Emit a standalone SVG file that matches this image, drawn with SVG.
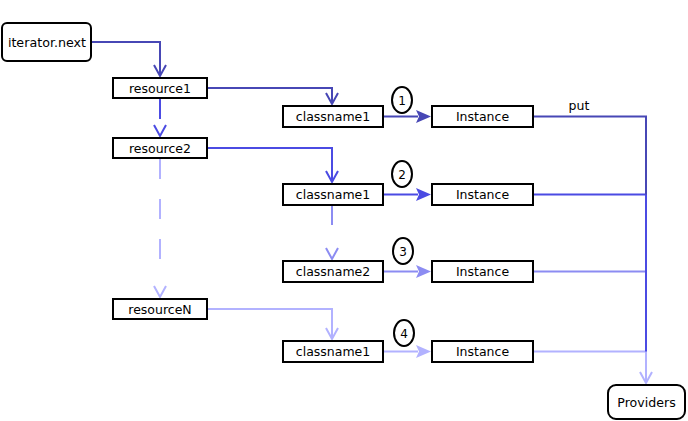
<svg xmlns="http://www.w3.org/2000/svg" width="688" height="421" viewBox="0 0 688 421">
<style>
.box{fill:#fff;stroke:#000;stroke-width:2}
.t{font-family:"DejaVu Sans",Verdana,sans-serif;font-size:12.5px;text-anchor:middle;fill:#000}
.ln{fill:none;stroke-width:2}
.c1{stroke:#4747b5}
.c2{stroke:#4b4be3}
.c3{stroke:#8c8cf2}
.c4{stroke:#b2b2ff}
.dash{stroke-dasharray:20 20}
.f1{fill:#4747b5}.f2{fill:#4b4be3}.f3{fill:#8c8cf2}.f4{fill:#b2b2ff}
</style>
<rect width="688" height="421" fill="#fff"/>
<g id="connectors">
  <!-- iterator.next -> resource1 -->
  <path class="ln c1" d="M92,42 H160 V76 M154,65 L160,76 L166,65"/>
  <!-- resource1 -> resource2 -->
  <path class="ln c2" d="M160,99 V119 M154,125 L160,136 L166,125"/>
  <!-- resource2 -> resourceN -->
  <path class="ln c4 dash" d="M160,159 V278"/>
  <path class="ln c4" d="M154,286 L160,297 L166,286"/>
  <!-- resource1 -> classname1 -->
  <path class="ln c1" d="M208,88 H332 V104 M326,93 L332,104 L338,93"/>
  <!-- resource2 -> classname1 -->
  <path class="ln c2" d="M208,148 H332 V182 M326,171 L332,182 L338,171"/>
  <!-- classname1 -> classname2 -->
  <path class="ln c3" d="M332,206 V225 M326,248 L332,259 L338,248"/>
  <!-- resourceN -> classname1 -->
  <path class="ln c4" d="M208,309 H332 V339 M326,328 L332,339 L338,328"/>
  <!-- classname -> Instance -->
  <path class="ln c1" d="M384,116.5 H418"/><path class="f1" d="M431,116.5 L416,110 L419,116.5 L416,123 Z"/>
  <path class="ln c2" d="M384,194.5 H418"/><path class="f2" d="M431,194.5 L416,188 L419,194.5 L416,201 Z"/>
  <path class="ln c3" d="M384,271.5 H418"/><path class="f3" d="M431,271.5 L416,265 L419,271.5 L416,278 Z"/>
  <path class="ln c4" d="M384,351.5 H418"/><path class="f4" d="M431,351.5 L416,345 L419,351.5 L416,358 Z"/>
  <!-- Instance -> Providers -->
  <path class="ln c4" d="M534,351.5 H646 V383 M640,372 L646,383 L652,372"/>
  <path class="ln c3" d="M534,271.5 H646"/>
  <path class="ln c2" d="M534,194.5 H646 V351.5"/>
  <path class="ln c1" d="M534,116.5 H646 V194.5"/>
  <text class="t" x="579" y="110">put</text>
</g>
<g id="iterator-next"><rect class="box" x="2" y="23" width="89" height="38" rx="5"/><text class="t" x="47" y="46.5" style="font-size:12.7px">iterator.next</text></g>
<g id="resource1"><rect class="box" x="113" y="78" width="94" height="20"/><text class="t" x="160" y="92.5">resource1</text></g>
<g id="resource2"><rect class="box" x="113" y="138" width="94" height="20"/><text class="t" x="160" y="152.5">resource2</text></g>
<g id="resourceN"><rect class="box" x="113" y="299" width="94" height="20"/><text class="t" x="160" y="313.5">resourceN</text></g>
<g id="classname1-a"><rect class="box" x="283" y="106" width="100" height="21"/><text class="t" x="333" y="121">classname1</text></g>
<g id="classname1-b"><rect class="box" x="283" y="184" width="100" height="21"/><text class="t" x="333" y="199">classname1</text></g>
<g id="classname2"><rect class="box" x="283" y="261" width="100" height="21"/><text class="t" x="333" y="276">classname2</text></g>
<g id="classname1-c"><rect class="box" x="283" y="341" width="100" height="21"/><text class="t" x="333" y="356">classname1</text></g>
<g id="instance1"><rect class="box" x="432" y="106" width="101" height="21"/><text class="t" x="482.5" y="121">Instance</text></g>
<g id="instance2"><rect class="box" x="432" y="184" width="101" height="21"/><text class="t" x="482.5" y="199">Instance</text></g>
<g id="instance3"><rect class="box" x="432" y="261" width="101" height="21"/><text class="t" x="482.5" y="276">Instance</text></g>
<g id="instance4"><rect class="box" x="432" y="341" width="101" height="21"/><text class="t" x="482.5" y="356">Instance</text></g>
<g id="step1"><ellipse class="box" cx="402" cy="100" rx="10" ry="13"/><text class="t" x="402" y="104.5" style="font-size:12px">1</text></g>
<g id="step2"><ellipse class="box" cx="402" cy="174" rx="10" ry="13"/><text class="t" x="402" y="178.5" style="font-size:12px">2</text></g>
<g id="step3"><ellipse class="box" cx="403" cy="251" rx="10" ry="13"/><text class="t" x="403" y="255.5" style="font-size:12px">3</text></g>
<g id="step4"><ellipse class="box" cx="404" cy="333" rx="10" ry="13"/><text class="t" x="404" y="337.5" style="font-size:12px">4</text></g>
<g id="providers"><rect class="box" x="608" y="385" width="77" height="34" rx="8"/><text class="t" x="646.5" y="406.5" style="font-size:12.6px">Providers</text></g>
</svg>
